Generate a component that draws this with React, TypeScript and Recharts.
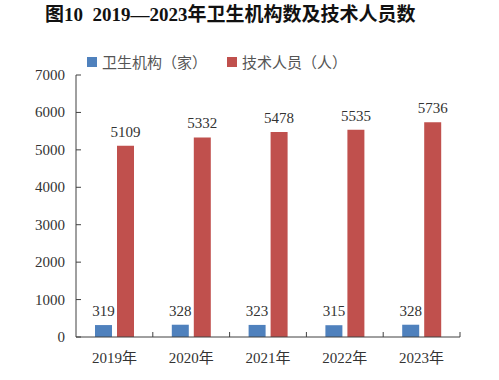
import { BarChart, Bar, XAxis, YAxis, Legend, LabelList } from "recharts";

const years = ["2019年", "2020年", "2021年", "2022年", "2023年"];
const institutions = [319, 328, 323, 315, 328];
const staff = [5109, 5332, 5478, 5535, 5736];
const yTicks = [0, 1000, 2000, 3000, 4000, 5000, 6000, 7000];

const data = years.map((year, i) => ({
  year,
  institutions: institutions[i],
  staff: staff[i],
}));

const SERIF = "'Liberation Serif', 'Noto Sans CJK SC', serif";
const AXIS = "#404040";

const XTick = (props: any) => {
  const { x, y, payload, width } = props;
  const band = (width || 384) / years.length;
  return (
    <g>
      <text x={x} y={y + 26} textAnchor="middle" fontSize={15} fontFamily={SERIF} fill="#333">
        {payload.value}
      </text>
      <line x1={x + band / 2} x2={x + band / 2} y1={y} y2={y - 5} stroke={AXIS} />
    </g>
  );
};

const YTick = (props: any) => {
  const { x, y, payload } = props;
  return (
    <g>
      <text x={x - 11} y={y + 5} textAnchor="end" fontSize={15} fontFamily={SERIF} fill="#333">
        {payload.value}
      </text>
      <line x1={x} x2={x + 5} y1={y} y2={y} stroke={AXIS} />
    </g>
  );
};

const LegendBox = () => (
  <div
    style={{
      display: "flex",
      alignItems: "center",
      fontFamily: "'Noto Sans CJK SC', sans-serif",
      fontSize: 15,
      color: "#555",
      paddingLeft: 87,
    }}
  >
    <span style={{ width: 10, height: 10, background: "#4F81BD", marginRight: 5 }} />
    <span style={{ marginRight: 20 }}>卫生机构（家）</span>
    <span style={{ width: 10, height: 10, background: "#C0504D", marginRight: 5 }} />
    <span>技术人员（人）</span>
  </div>
);

export default function App() {
  return (
    <div style={{ position: "absolute", left: 0, top: 0, width: 499, height: 380, background: "#fff" }}>
      <div
        style={{
          position: "absolute",
          left: 45,
          top: 3,
          fontSize: 19,
          fontWeight: "bold",
          fontFamily: SERIF,
          color: "#111",
          whiteSpace: "pre",
          lineHeight: "24px",
        }}
      >
        {"图10  2019—2023年卫生机构数及技术人员数"}
      </div>
      <BarChart
        width={499}
        height={380}
        data={data}
        margin={{ top: 75, right: 39, bottom: 13, left: 16 }}
        barSize={17}
        barGap={5}
      >
        <XAxis
          dataKey="year"
          stroke={AXIS}
          tickSize={0}
          tickMargin={0}
          tick={<XTick />}
          height={30}
          interval={0}
        />
        <YAxis
          domain={[0, 7000]}
          ticks={yTicks}
          stroke={AXIS}
          tickSize={0}
          tickMargin={0}
          tick={<YTick />}
          width={60}
          interval={0}
        />
        <Legend
          layout="horizontal"
          verticalAlign="middle"
          align="center"
          content={<LegendBox />}
          wrapperStyle={{ position: "absolute", top: 51, left: 0, width: 499 }}
        />
        <Bar dataKey="institutions" fill="#4F81BD" isAnimationActive={false}>
          <LabelList dataKey="institutions" position="top" offset={9} fontSize={15} fontFamily={SERIF} fill="#333" />
        </Bar>
        <Bar dataKey="staff" fill="#C0504D" isAnimationActive={false}>
          <LabelList dataKey="staff" position="top" offset={9} fontSize={15} fontFamily={SERIF} fill="#333" />
        </Bar>
      </BarChart>
    </div>
  );
}
